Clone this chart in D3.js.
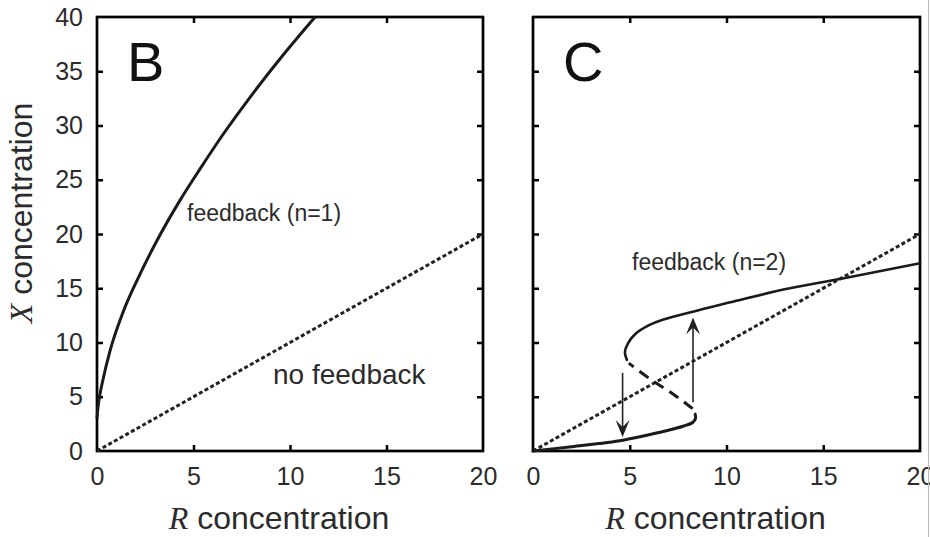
<!DOCTYPE html>
<html>
<head>
<meta charset="utf-8">
<script src="https://cdn.jsdelivr.net/npm/d3@7"></script>
<style>
  html, body { margin: 0; padding: 0; background: #fff; }
  svg { display: block; }
</style>
</head>
<body>
<div id="chart"></div>
<script>
// axis ticks (both panels share R and X ranges)
const rTicks = [0, 5, 10, 15, 20];
const xTicks = [0, 5, 10, 15, 20, 25, 30, 35, 40];

// panel B: no feedback, X = R
const noFeedbackR = [0, 20];
const noFeedbackX = [0, 20];

// panel B: feedback (n=1)
const fb1R = [0, 0.05, 0.15, 0.3, 0.67, 1.35, 2.23, 3.2, 4.3, 5.34, 6.5, 7.93, 9.6, 11.3];
const fb1X = [3, 4.0, 5.2, 6.5, 9.2, 12.8, 16.3, 19.7, 23.1, 26.0, 29.1, 32.6, 36.4, 40];

// panel C: feedback (n=2), S-shaped steady state curve
const lowR = [0, 2, 4.65, 6.5, 7.8, 8.27, 8.4, 8.38];
const lowX = [0, 0.4, 1.0, 1.7, 2.3, 2.65, 3.0, 3.4];
const midR = [8.25, 7.2, 6.0, 4.95];
const midX = [3.9, 5.3, 6.7, 8.1];
const highR = [4.85, 4.75, 4.9, 5.3, 6.0, 6.7, 8.6, 10.2, 13, 16, 20];
const highX = [8.4, 9.1, 9.9, 10.8, 11.6, 12.1, 13.0, 13.7, 14.9, 15.9, 17.3];

// panel C: switching arrows
const arrowR = [4.63, 8.27];
const arrowFrom = [7.2, 4.5];
const arrowTo = [1.3, 12.3];

const W = 930, H = 537;
const textCol = "#2b2b2b";
const sans = "'Liberation Sans', Arial, sans-serif";
const serif = "'Liberation Serif', 'Times New Roman', serif";

const svg = d3.select("#chart").append("svg")
  .attr("width", W).attr("height", H);

svg.append("rect").attr("width", W).attr("height", H).attr("fill", "#fff");

const plotTop = 17, plotBottom = 451;
const y = d3.scaleLinear().domain([0, 40]).range([plotBottom, plotTop]);

const zip = (a, b) => a.map((v, i) => [v, b[i]]);

function drawPanel(left, right, letter, showYLabels) {
  const x = d3.scaleLinear().domain([0, 20]).range([left, right]);
  const g = svg.append("g");

  // inward ticks on all four sides
  const inner = [5, 10, 15];
  const innerY = [5, 10, 15, 20, 25, 30, 35];

  g.append("g").attr("transform", `translate(0,${plotBottom})`)
    .call(d3.axisBottom(x).tickValues(rTicks).tickSize(-6).tickPadding(16).tickFormat(d3.format("d")))
    .call(a => a.select(".domain").remove())
    .call(a => a.selectAll(".tick line").filter(d => !inner.includes(d)).remove());

  g.append("g").attr("transform", `translate(0,${plotTop})`)
    .call(d3.axisTop(x).tickValues(inner).tickSize(-6).tickFormat(""))
    .call(a => a.select(".domain").remove());

  g.append("g").attr("transform", `translate(${left},0)`)
    .call(d3.axisLeft(y).tickValues(xTicks).tickSize(-6).tickPadding(14)
      .tickFormat(showYLabels ? d3.format("d") : ""))
    .call(a => a.select(".domain").remove())
    .call(a => a.selectAll(".tick line").filter(d => !innerY.includes(d)).remove());

  g.append("g").attr("transform", `translate(${right},0)`)
    .call(d3.axisRight(y).tickValues(innerY).tickSize(-6).tickFormat(""))
    .call(a => a.select(".domain").remove());

  g.selectAll(".tick line").attr("stroke", "#000").attr("stroke-width", 2.5);
  g.selectAll(".tick text")
    .attr("fill", textCol)
    .style("font-family", sans)
    .style("font-size", "25px");

  // frame
  g.append("rect")
    .attr("x", left).attr("y", plotTop)
    .attr("width", right - left).attr("height", plotBottom - plotTop)
    .attr("fill", "none").attr("stroke", "#000").attr("stroke-width", 2.7);

  // panel letter
  g.append("text")
    .attr("x", left + 30).attr("y", plotTop + 64)
    .attr("fill", "#111")
    .style("font-family", sans).style("font-size", "56px")
    .text(letter);

  // x axis title
  const t = g.append("text")
    .attr("x", (left + right) / 2 - 11).attr("y", 529)
    .attr("text-anchor", "middle")
    .attr("fill", textCol)
    .style("font-size", "32px");
  t.append("tspan").style("font-family", serif).style("font-style", "italic").text("R");
  t.append("tspan").style("font-family", sans).text(" concentration");

  return { g, x };
}

const B = drawPanel(97, 483, "B", true);
const C = drawPanel(533, 920, "C", false);

// y axis title
const yt = svg.append("text")
  .attr("transform", "translate(32,213) rotate(-90)")
  .attr("text-anchor", "middle")
  .attr("fill", textCol)
  .style("font-size", "32px");
yt.append("tspan").style("font-family", serif).style("font-style", "italic").text("X");
yt.append("tspan").style("font-family", sans).text(" concentration");

// ---- panel B curves ----
const lineB = d3.line().x(d => B.x(d[0])).y(d => y(d[1]));
B.g.append("path")
  .datum(zip(noFeedbackR, noFeedbackX))
  .attr("d", lineB)
  .attr("fill", "none").attr("stroke", "#222")
  .attr("stroke-width", 3).attr("stroke-dasharray", "4,2.5");

B.g.append("path")
  .datum(zip(fb1R, fb1X))
  .attr("d", lineB.curve(d3.curveMonotoneX))
  .attr("fill", "none").attr("stroke", "#1a1a1a")
  .attr("stroke-width", 3);

B.g.append("text").attr("x", 187).attr("y", 221)
  .attr("fill", textCol).style("font-family", sans).style("font-size", "23px")
  .text("feedback (n=1)");
B.g.append("text").attr("x", 273).attr("y", 384)
  .attr("fill", textCol).style("font-family", sans).style("font-size", "28px")
  .text("no feedback");

// ---- panel C curves ----
const lineC = d3.line().x(d => C.x(d[0])).y(d => y(d[1]));
const lineCs = d3.line().x(d => C.x(d[0])).y(d => y(d[1])).curve(d3.curveCatmullRom);

C.g.append("path")
  .datum(zip(noFeedbackR, noFeedbackX))
  .attr("d", lineC)
  .attr("fill", "none").attr("stroke", "#222")
  .attr("stroke-width", 3).attr("stroke-dasharray", "4,2.5");

C.g.append("path")
  .datum(zip(lowR, lowX))
  .attr("d", lineCs)
  .attr("fill", "none").attr("stroke", "#1a1a1a").attr("stroke-width", 3)
  .attr("stroke-linecap", "round");

C.g.append("path")
  .datum(zip(midR, midX))
  .attr("d", lineCs)
  .attr("fill", "none").attr("stroke", "#1a1a1a").attr("stroke-width", 3)
  .attr("stroke-dasharray", "11,7");

C.g.append("path")
  .datum(zip(highR, highX))
  .attr("d", lineCs)
  .attr("fill", "none").attr("stroke", "#1a1a1a").attr("stroke-width", 2.6)
  .attr("stroke-linecap", "round");

// arrows
arrowR.forEach((r, i) => {
  const px = C.x(r), y0 = y(arrowFrom[i]), y1 = y(arrowTo[i]);
  const dir = y1 > y0 ? 1 : -1;
  C.g.append("line")
    .attr("x1", px).attr("x2", px)
    .attr("y1", y0).attr("y2", y1 - dir * 9)
    .attr("stroke", "#222").attr("stroke-width", 1.6);
  // barbed head, tip at y1
  const hl = 17, hw = 7, notch = 10;
  C.g.append("path")
    .attr("d", `M${px},${y1} L${px - hw},${y1 - dir * hl} L${px},${y1 - dir * notch} L${px + hw},${y1 - dir * hl} Z`)
    .attr("fill", "#222");
});

C.g.append("text").attr("x", 632).attr("y", 270)
  .attr("fill", textCol).style("font-family", sans).style("font-size", "23px")
  .text("feedback (n=2)");

// right edge of the scan
svg.append("line").attr("x1", 928.5).attr("x2", 928.5).attr("y1", 0).attr("y2", H)
  .attr("stroke", "#bbb").attr("stroke-width", 1);
</script>
</body>
</html>
